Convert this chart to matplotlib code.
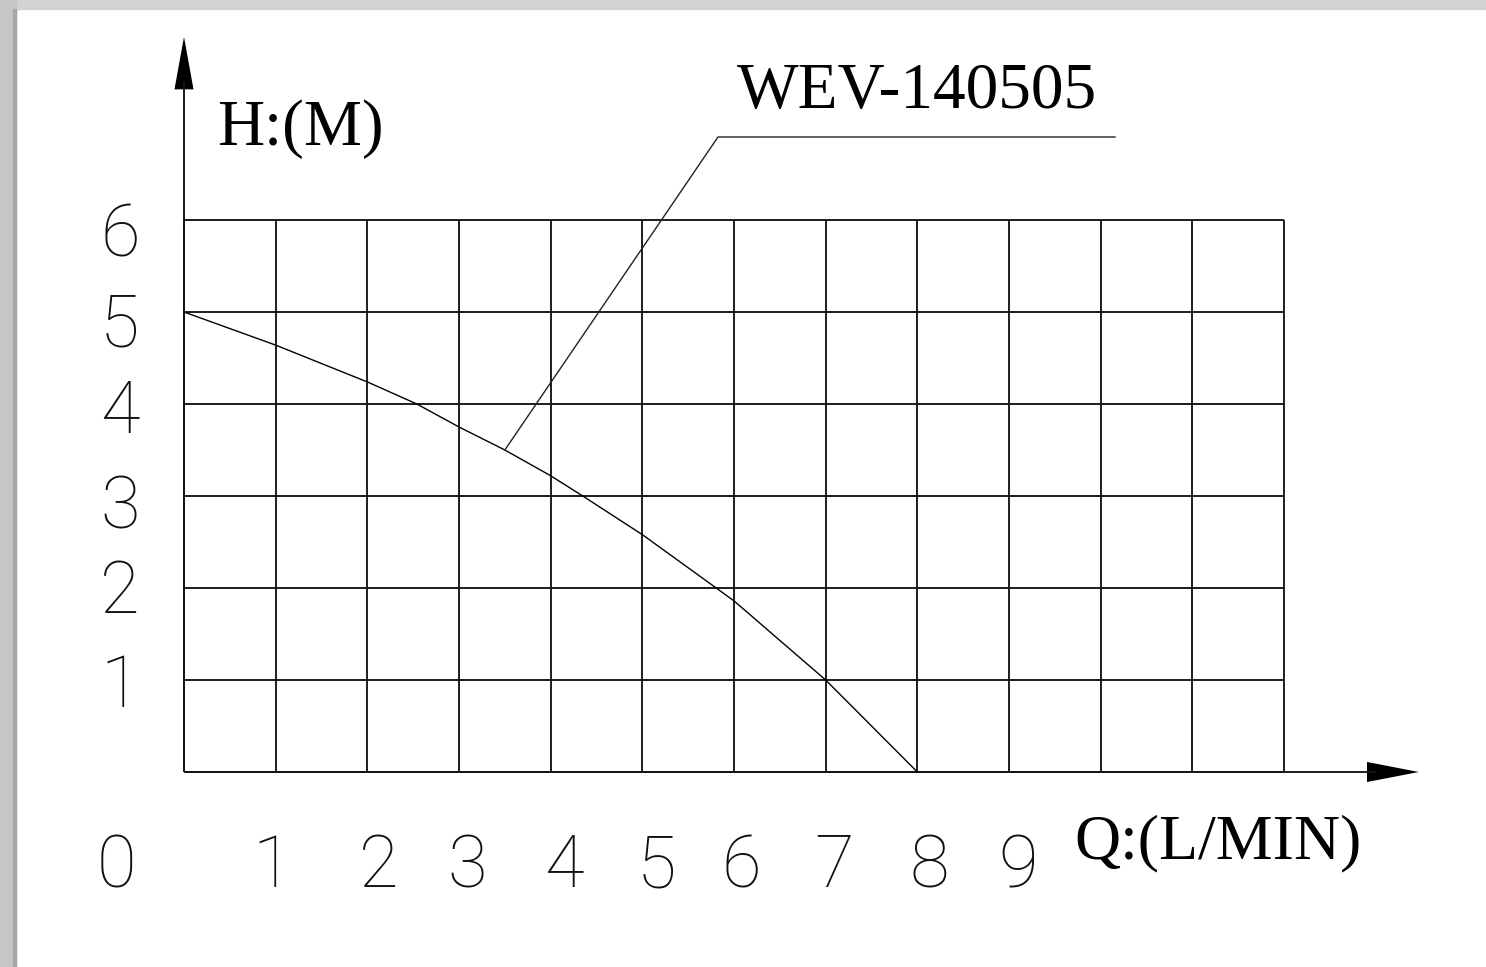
import matplotlib.pyplot as plt
from matplotlib.patches import Rectangle

# pump curve WEV-140505 (grid units)
flow = [0, 1, 2, 2.54, 3, 3.5, 4, 4.35, 5, 6, 7, 8]
head = [5.0, 4.64, 4.24, 4.0, 3.75, 3.5, 3.22, 3.0, 2.58, 1.86, 1.0, 0.0]

x_labels = ["0", "1", "2", "3", "4", "5", "6", "7", "8", "9"]
x_label_pos = [-0.74, 0.96, 2.12, 3.09, 4.14, 5.15, 6.08, 7.09, 8.13, 9.10]
y_labels = ["1", "2", "3", "4", "5", "6"]
y_label_pos = [0.97, 1.99, 2.91, 3.95, 4.89, 5.87]

model_name = "WEV-140505"
leader_x = [3.5, 5.825, 10.156]
leader_y = [3.5, 6.902, 6.902]

n_cols, n_rows = 12, 6

fig = plt.figure(figsize=(14.86, 9.67), dpi=100)
ax = fig.add_axes([0, 0, 1, 1])
ax.set_xlim(-184 / 91.67, (1486 - 184) / 91.67)
ax.set_ylim((772 - 967) / 92, 772 / 92)
ax.axis("off")

grid_kw = dict(color="#151515", lw=1.35, solid_capstyle="butt")
for i in range(n_rows + 1):
    ax.plot([0, n_cols], [i, i], **grid_kw)
for j in range(n_cols + 1):
    ax.plot([j, j], [0, n_rows], **grid_kw)

# axes with arrows
ax.plot([0, 13.0], [0, 0], **grid_kw)
ax.plot([0, 0], [0, 7.5], **grid_kw)
ax.fill([12.905, 13.47, 12.905], [-0.109, 0, 0.109], color="black", lw=0)
ax.fill([-0.104, 0, 0.104], [7.42, 7.99, 7.42], color="black", lw=0)

# curve + leader
ax.plot(flow, head, color="black", lw=1.0)
ax.plot(leader_x, leader_y, color="#222222", lw=1.0)
ax.text(8.0, 7.217, model_name, family="Liberation Serif", fontsize=47,
        ha="center", va="baseline")

ax.text(0.36, 6.815, "H:(M)", family="Liberation Serif", fontsize=47,
        ha="left", va="baseline")
ax.text(9.71, -0.935, "Q:(L/MIN)", family="Liberation Serif", fontsize=46,
        ha="left", va="baseline")

digit_kw = dict(family="Roboto", fontweight=100, fontsize=52,
                ha="center", va="center", color="#111111")
for lab, xp in zip(x_labels, x_label_pos):
    ax.text(xp, -1.04, lab, **digit_kw)
for lab, yp in zip(y_labels, y_label_pos):
    ax.text(-0.70, yp - 0.05, lab, **digit_kw)

# grey window frame on top / left
fig.patches.append(Rectangle((0, 1 - 9 / 967), 1, 9 / 967, transform=fig.transFigure,
                             color="#d2d2d2", zorder=5))
fig.patches.append(Rectangle((0, 0), 16 / 1486, 1, transform=fig.transFigure,
                             color="#c6c6c6", zorder=5))
fig.patches.append(Rectangle((13 / 1486, 0), 3 / 1486, 1 - 9 / 967, transform=fig.transFigure,
                             color="#a8a8a8", zorder=6))

fig.savefig("out.png", dpi=100)
